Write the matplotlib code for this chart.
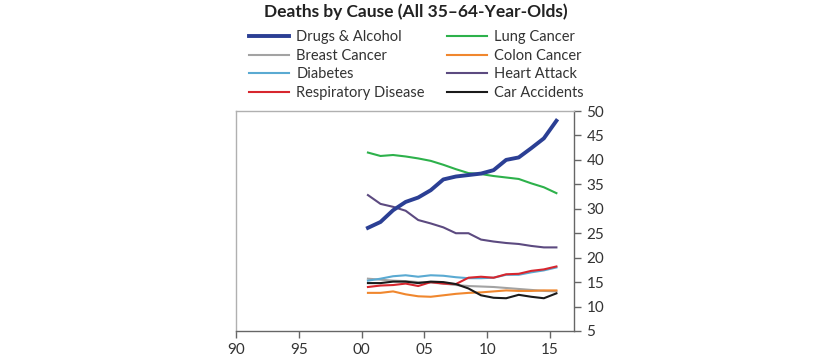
import matplotlib
matplotlib.use("Agg")
import matplotlib.pyplot as plt
import numpy as np

plt.rcParams['font.family'] = ['Lato', 'DejaVu Sans']

years = np.arange(2000, 2016) + 0.5

drugs_alcohol = [26.1, 27.3, 29.7, 31.4, 32.3, 33.8, 36.0, 36.6, 36.9, 37.2, 37.9, 40.0, 40.5, 42.4, 44.4, 48.0]
lung_cancer = [41.5, 40.8, 41.0, 40.7, 40.3, 39.8, 39.0, 38.1, 37.3, 37.1, 36.7, 36.4, 36.1, 35.2, 34.4, 33.2]
breast_cancer = [15.7, 15.5, 15.3, 15.2, 15.0, 14.9, 14.7, 14.4, 14.2, 14.1, 14.0, 13.8, 13.6, 13.4, 13.2, 13.1]
colon_cancer = [12.8, 12.8, 13.1, 12.5, 12.1, 12.0, 12.3, 12.6, 12.8, 12.9, 13.1, 13.3, 13.2, 13.2, 13.3, 13.3]
diabetes = [15.3, 15.7, 16.2, 16.4, 16.1, 16.4, 16.3, 16.0, 15.8, 15.8, 15.9, 16.5, 16.5, 17.0, 17.4, 18.0]
heart_attack = [32.8, 31.0, 30.4, 29.6, 27.7, 27.0, 26.2, 25.0, 25.0, 23.7, 23.3, 23.0, 22.8, 22.4, 22.1, 22.1]
respiratory = [14.0, 14.3, 14.4, 14.7, 14.2, 15.0, 14.7, 14.6, 15.9, 16.1, 15.9, 16.6, 16.7, 17.3, 17.6, 18.2]
car_accidents = [14.8, 14.8, 15.1, 15.1, 14.8, 15.1, 15.0, 14.6, 13.7, 12.3, 11.8, 11.7, 12.4, 12.0, 11.7, 12.7]

x_ticks = [1990, 1995, 2000, 2005, 2010, 2015]
x_labels = ['90', '95', '00', '05', '10', '15']
y_ticks = [5, 10, 15, 20, 25, 30, 35, 40, 45, 50]

fig = plt.figure(figsize=(8.4, 3.61), dpi=100)
ax = fig.add_axes([236/840, 1-331/361, (574-236)/840, (331-111)/361])

series = [
    ("Drugs & Alcohol", drugs_alcohol, "#2B3F94", 2.8),
    ("Breast Cancer", breast_cancer, "#A3A3A3", 1.5),
    ("Diabetes", diabetes, "#5AAAD2", 1.5),
    ("Respiratory Disease", respiratory, "#D7262E", 1.5),
    ("Lung Cancer", lung_cancer, "#2DB14B", 1.5),
    ("Colon Cancer", colon_cancer, "#F0872E", 1.5),
    ("Heart Attack", heart_attack, "#5C4A80", 1.5),
    ("Car Accidents", car_accidents, "#1A1A1A", 1.5),
]
draw_order = [1, 5, 2, 3, 7, 6, 4, 0]
lines = {}
for i in draw_order:
    name, vals, col, lw = series[i]
    ln, = ax.plot(years, vals, color=col, lw=lw, label=name, zorder=3 + (1 if i == 0 else 0))
    lines[i] = ln

ax.set_xlim(1990, 2016.9)
ax.set_ylim(5, 50)
ax.set_xticks(x_ticks)
ax.set_xticklabels(x_labels)
ax.set_yticks(y_ticks)
ax.yaxis.tick_right()
ax.tick_params(axis='both', direction='out', length=5, width=1, color='#666666',
               labelsize=11, labelcolor='#333333')
ax.tick_params(axis='x', pad=4)
ax.tick_params(axis='y', pad=4)
for s in ['left', 'top']:
    ax.spines[s].set_color('#B0B0B0')
    ax.spines[s].set_linewidth(1)
for s in ['bottom', 'right']:
    ax.spines[s].set_color('#666666')
    ax.spines[s].set_linewidth(1)

handles = [lines[i] for i in range(8)]
labels = [series[i][0] for i in range(8)]
leg = fig.legend(handles, labels, ncol=2, loc='upper left', bbox_to_anchor=(249/840, 1-30/361),
                 frameon=False, fontsize=10.5, handlelength=2.75, handletextpad=0.5,
                 columnspacing=1.5, labelspacing=0.32, borderaxespad=0, borderpad=0)
for t in leg.get_texts():
    t.set_color('#333333')

fig.text(416/840, 1-12/361, "Deaths by Cause (All 35\u201364-Year-Olds)", ha='center', va='center',
         fontsize=12.5, fontweight='bold', color='#222222')

fig.savefig("out.png", dpi=100)
